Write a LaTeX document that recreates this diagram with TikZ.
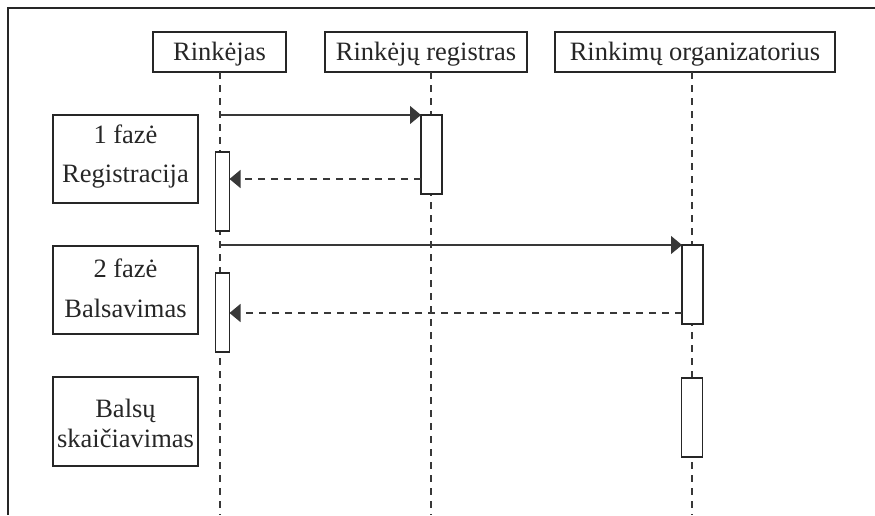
\documentclass[tikz,border=0pt]{standalone}
\usepackage{fontspec}
\setmainfont{Liberation Serif}
\usetikzlibrary{arrows.meta}
\definecolor{ink}{HTML}{262626}
\definecolor{wire}{HTML}{383838}
\begin{document}
\begin{tikzpicture}[x=1pt,y=-1pt,
  every node/.style={inner sep=0pt, outer sep=0pt},
  frameline/.style={draw=ink, line width=1.4pt},
  actor/.style={draw=ink, line width=1.3pt, fill=white, minimum height=40pt,
    text=ink, font=\fontsize{26.5}{30}\selectfont, text height=19pt, text depth=3pt},
  phasebox/.style={draw=ink, line width=1.3pt, minimum width=145pt},
  lbl/.style={font=\fontsize{26.5}{30}\selectfont, text=ink, anchor=base},
  life/.style={draw=wire, line width=1.1pt, dash pattern=on 7pt off 6pt},
  act/.style={draw=ink, line width=1.3pt, fill=white, minimum height=79pt},
  call/.style={draw=wire, line width=1.3pt, -{Triangle[length=11pt,width=18pt]}},
  reply/.style={call, dash pattern=on 7pt off 6pt}
]
\useasboundingbox (0,0) rectangle (875,515);

% outer frame (top and left edges)
\draw[frameline] (875,8) -- (8,8) -- (8,515);

% participants
\node[actor, minimum width=133pt] (voter) at (219.5,52) {Rinkėjas};
\node[actor, minimum width=202pt] (registry) at (426,52) {Rinkėjų registras};
\node[actor, minimum width=280pt] (organizer) at (695,52) {Rinkimų organizatorius};

% lifelines
\coordinate (voterTop) at (220,72);
\coordinate (voterEnd) at (220,515);
\coordinate (registryTop) at (431,72);
\coordinate (registryEnd) at (431,515);
\coordinate (organizerTop) at (692,72);
\coordinate (organizerEnd) at (692,515);
\draw[life] (voterTop) -- (voterEnd);
\draw[life] (registryTop) -- (registryEnd);
\draw[life] (organizerTop) -- (organizerEnd);

% activation bars
\node[act, minimum width=14pt] (voterActA) at (222.5,191.5) {};
\node[act, minimum width=14pt] (voterActB) at (222.5,312.5) {};
\node[act, minimum width=21pt] (registryAct) at (431.5,154.5) {};
\node[act, minimum width=21pt] (organizerActA) at (692.5,284.5) {};
\node[act, minimum width=21pt] (organizerActB) at (692,417.5) {};

% messages
\coordinate (sendA) at (220,115);
\coordinate (sendB) at (220,245);
\draw[call] (sendA) -- (registryAct.north west);
\draw[reply] (registryAct.west |- 0,179) -- (voterActA.east |- 0,179);
\draw[call] (sendB) -- (organizerActA.north west);
\draw[reply] (organizerActA.west |- 0,313) -- (voterActB.east |- 0,313);

% phase labels
\node[phasebox, minimum height=88pt] (phaseA) at (125.5,159) {};
\node[lbl] (phaseAnum) at (125.5,143) {1 fazė};
\node[lbl] (phaseAname) at (125.5,182) {Registracija};

\node[phasebox, minimum height=88pt] (phaseB) at (125.5,290) {};
\node[lbl] (phaseBnum) at (125.5,277) {2 fazė};
\node[lbl] (phaseBname) at (125.5,317) {Balsavimas};

\node[phasebox, minimum height=89pt] (phaseC) at (125.5,421.5) {};
\node[lbl] (phaseCtop) at (125.5,417) {Balsų};
\node[lbl] (phaseCbot) at (125.5,447) {skaičiavimas};
\end{tikzpicture}
\end{document}
